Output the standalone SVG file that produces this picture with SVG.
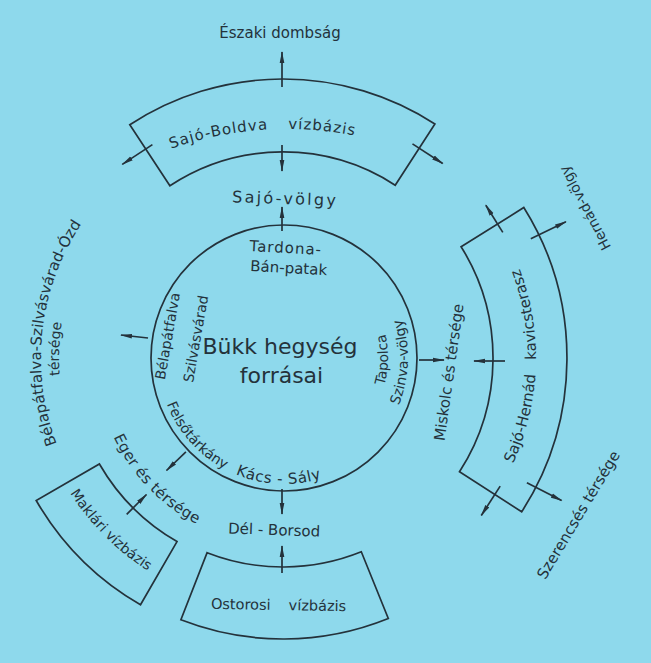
<svg xmlns="http://www.w3.org/2000/svg" width="651" height="663" viewBox="0 0 651 663">
<style>
text{font-family:"DejaVu Sans","Liberation Sans",sans-serif;font-size:15px;fill:#24323b}
.shape{fill:none;stroke:#24323b;stroke-width:1.7}
.arr{fill:none;stroke:#24323b;stroke-width:1.7;marker-end:url(#ah)}
</style>
<defs>
<marker id="ah" viewBox="0 0 12 6" refX="11" refY="3" markerWidth="12" markerHeight="6" markerUnits="userSpaceOnUse" orient="auto"><path d="M0,0.7 L12,3 L0,5.3 Z" fill="#24323b"/></marker>
<path id="tp-sb" d="M111.5,176 A351,351 0 0 1 462.5,176"/>
<path id="tp-sh" d="M409.5,577.1 A253,253 0 0 0 409.5,138.9"/>
<path id="tp-mak" d="M34.8,401.7 A252,252 0 0 0 239.3,606.2"/>
<path id="tp-eger" d="M98.8,390.5 A187,187 0 0 0 250.5,542.2"/>
<path id="tp-fk" d="M158.5,369 A126,126 0 0 0 365,454.5"/>
<path id="tp-tap" d="M336,448.1 A104,104 0 0 0 336,267.9"/>
<path id="tp-szv" d="M346,465.4 A124,124 0 0 0 346,250.6"/>
<path id="tp-bso" d="M97.6,513.6 A242,242 0 0 1 162,148.4"/>
<path id="tp-bso2" d="M111.4,502 A224,224 0 0 1 171,164"/>
</defs>
<rect width="651" height="663" fill="#8ed9ec"/>

<g id="node-bukk">
<circle class="shape" cx="284" cy="358" r="133"/>
<text x="280" y="354" text-anchor="middle" style="font-size:22px">Bükk hegység</text>
<text x="281.5" y="383" text-anchor="middle" style="font-size:22px">forrásai</text>
</g>

<g id="label-tardona">
<text text-anchor="middle" transform="rotate(3 287 262)"><tspan x="285" y="253" style="letter-spacing:1px">Tardona-</tspan><tspan x="289" y="273">Bán-patak</tspan></text>
</g>
<g id="label-belapatfalva">
<text transform="translate(172.4,336.9) rotate(-80)" text-anchor="middle" style="font-size:14px">Bélapátfalva</text>
<text transform="translate(200.6,339.6) rotate(-80)" text-anchor="middle" style="font-size:14px">Szilvásvárad</text>
</g>
<g id="label-tapolca">
<text text-anchor="middle" style="font-size:14px"><textPath href="#tp-tap" startOffset="107">Tapolca</textPath></text>
<text text-anchor="middle" style="font-size:14px"><textPath href="#tp-szv" startOffset="125.4">Szinva-völgy</textPath></text>
</g>
<g id="label-felsotarkany">
<text style="font-size:14px"><textPath href="#tp-fk" startOffset="36">Felsőtárkány</textPath></text>
</g>
<g id="label-kacs-saly">
<text style="letter-spacing:0.6px"><textPath href="#tp-fk" startOffset="137">Kács - Sály</textPath></text>
</g>

<g id="node-sajo-boldva">
<path class="shape" d="M129.8,124.8 A279,279 0 0 1 434.9,124 L395.2,185.2 A206,206 0 0 0 169.9,185.8 Z"/>
<text text-anchor="middle" style="letter-spacing:1px;word-spacing:14px"><textPath href="#tp-sb" startOffset="159">Sajó-Boldva vízbázis</textPath></text>
</g>
<g id="label-eszaki"><text x="280" y="38" text-anchor="middle">Északi dombság</text></g>
<g id="label-sajo-volgy"><text x="285" y="204" transform="rotate(2 285 204)" text-anchor="middle" style="font-size:16px;letter-spacing:2.3px">Sajó-völgy</text></g>

<g id="node-sajo-hernad">
<path class="shape" d="M461.1,246.7 L523.8,207.5 A284,284 0 0 1 521.7,511.8 L459.5,471.8 A210,210 0 0 0 461.1,246.7 Z"/>
<text text-anchor="middle" style="word-spacing:10px"><textPath href="#tp-sh" startOffset="256">Sajó-Hernád kavicsterasz</textPath></text>
</g>
<g id="label-hernad-volgy"><text transform="translate(589.4,205.7) rotate(-118)" text-anchor="middle" style="font-size:14px">Hernád-völgy</text></g>
<g id="label-miskolc"><text transform="translate(454,373) rotate(-82)" text-anchor="middle">Miskolc és térsége</text></g>
<g id="label-szerencs"><text transform="translate(582.8,517.5) rotate(-59)" text-anchor="middle">Szerencsés térsége</text></g>

<g id="node-ostoros">
<path class="shape" d="M207.1,552.7 A209,209 0 0 0 361.3,551.8 L388.3,618.5 A281,281 0 0 1 180.9,619.8 Z"/>
<text x="278.5" y="610" transform="rotate(1 278 610)" text-anchor="middle" style="font-size:14.5px;word-spacing:13.5px">Ostorosi vízbázis</text>
</g>
<g id="label-del-borsod"><text x="274" y="535" transform="rotate(2 274 535)" text-anchor="middle">Dél - Borsod</text></g>

<g id="node-maklar">
<path class="shape" d="M99.4,464 A212,212 0 0 0 177,541.6 L140.5,604.8 A285,285 0 0 1 36.2,500.5 Z"/>
<text text-anchor="middle" style="font-size:14px"><textPath href="#tp-mak" startOffset="153.9">Maklári vízbázis</textPath></text>
</g>
<g id="label-eger"><text text-anchor="middle" style="letter-spacing:0.3px"><textPath href="#tp-eger" startOffset="110.3">Eger és térsége</textPath></text></g>

<g id="label-belapatfalva-ozd">
<text text-anchor="middle" style="font-size:15px"><textPath href="#tp-bso" startOffset="196">Bélapátfalva-Szilvásvárad-Ózd</textPath></text>
<text text-anchor="middle" style="font-size:14px"><textPath href="#tp-bso2" startOffset="165.4">térsége</textPath></text>
</g>

<g id="connectors">
<line class="arr" x1="282" y1="231" x2="282" y2="207"/>
<line class="arr" x1="148" y1="338" x2="121" y2="335"/>
<line class="arr" x1="419" y1="360" x2="444" y2="360"/>
<line class="arr" x1="282" y1="489" x2="282" y2="514"/>
<line class="arr" x1="185.9" y1="451.8" x2="166.5" y2="470.5"/>
<line class="arr" x1="282" y1="87" x2="282" y2="52"/>
<line class="arr" x1="282" y1="145" x2="282" y2="171"/>
<line class="arr" x1="152.4" y1="144.6" x2="122.3" y2="164.4"/>
<line class="arr" x1="412.5" y1="143.9" x2="442.7" y2="163.5"/>
<line class="arr" x1="502.8" y1="232.4" x2="485.8" y2="205.2"/>
<line class="arr" x1="530.8" y1="238.7" x2="565.9" y2="221.8"/>
<line class="arr" x1="505" y1="361" x2="474" y2="361"/>
<line class="arr" x1="500.2" y1="486.1" x2="481.3" y2="515.5"/>
<line class="arr" x1="526.9" y1="482.8" x2="561.6" y2="500.6"/>
<line class="arr" x1="282" y1="573" x2="282" y2="546"/>
<line class="arr" x1="126.7" y1="514.3" x2="146.5" y2="494.5"/>
</g>
</svg>
